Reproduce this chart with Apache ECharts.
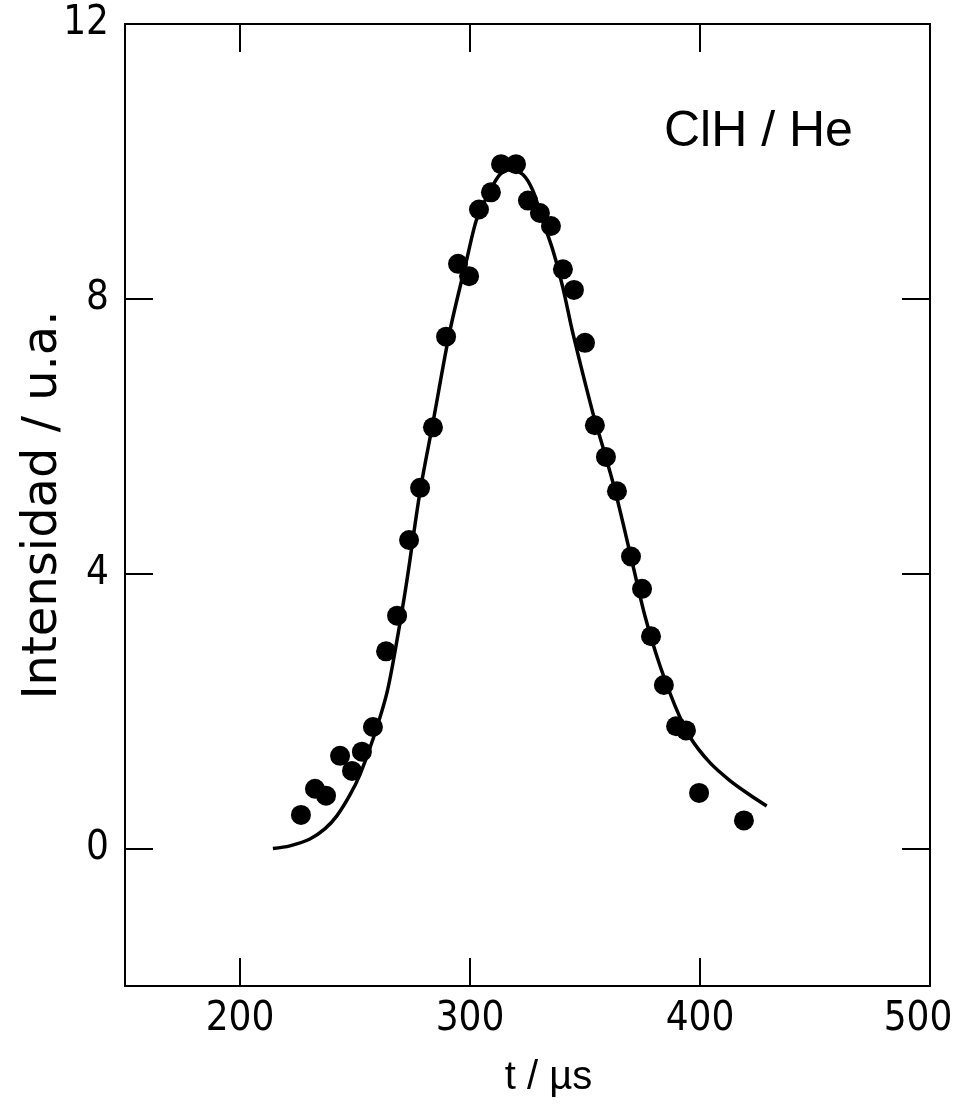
<!DOCTYPE html>
<html>
<head>
<meta charset="utf-8">
<script src="https://cdn.jsdelivr.net/npm/echarts@6/dist/echarts.min.js"></script>
<style>html,body{margin:0;padding:0;background:#fff}#c{width:955px;height:1105px}</style>
</head>
<body>
<div id="c"></div>
<script>
// Measured points
var pointsT = [226.5, 232.6, 237.4, 243.5, 248.7, 253, 257.8, 263.5, 268.3, 273.5, 278.3, 283.9, 289.6, 294.8, 299.6, 303.9, 309.1, 313.5, 320, 325.2, 330.4, 335.2, 340.4, 345.2, 350, 354.3, 359.1, 363.9, 370, 374.8, 378.7, 384.3, 389.6, 393.9, 399.6, 419.1];
var pointsI = [0.49, 0.87, 0.77, 1.35, 1.13, 1.41, 1.77, 2.87, 3.39, 4.49, 5.25, 6.13, 7.45, 8.51, 8.33, 9.30, 9.55, 9.96, 9.96, 9.43, 9.25, 9.06, 8.43, 8.13, 7.36, 6.16, 5.70, 5.20, 4.25, 3.78, 3.09, 2.38, 1.78, 1.72, 0.81, 0.41];
// Fitted curve
var fitT = [214.3, 221.7, 230.4, 237, 242.2, 247.8, 252.2, 257.8, 263.9, 268.3, 272.6, 278.3, 283.9, 291.3, 298.7, 303, 308.7, 313, 317.4, 323, 327.4, 331.7, 336.1, 340.4, 344.8, 353.5, 357.8, 363, 369.6, 376.1, 382.6, 389.1, 395.7, 404.3, 413, 421.7, 429];
var fitI = [0, 0.04, 0.14, 0.29, 0.48, 0.78, 1.08, 1.59, 2.27, 3.04, 3.91, 5.2, 6.2, 7.54, 8.59, 9.17, 9.57, 9.81, 9.88, 9.81, 9.57, 9.13, 8.70, 8.16, 7.49, 6.33, 5.84, 5.22, 4.30, 3.38, 2.66, 2.08, 1.62, 1.25, 0.99, 0.78, 0.62];
// Ticks and labels
var xTicks = [200, 300, 400, 500];
var yTicks = [0, 4, 8, 12];
var xTitle = 't / µs';
var yTitle = 'Intensidad / u.a.';
var label = 'ClH / He';

var numFont = "'Liberation Sans Narrow', 'DejaVu Sans Condensed', 'Liberation Sans', sans-serif";
var txtFont = "'Liberation Sans', sans-serif";

function zip(a, b) { return a.map(function (v, i) { return [v, b[i]]; }); }

var axisLine = { show: true, onZero: false, lineStyle: { color: '#000', width: 2 } };
var tick = { show: true, inside: true, length: 28, lineStyle: { color: '#000', width: 2 } };

var chart = echarts.init(document.getElementById('c'), null, { renderer: 'canvas' });
chart.setOption({
  animation: false,
  backgroundColor: '#fff',
  grid: { left: 125, right: 25, top: 24, bottom: 119, containLabel: false, outerBoundsMode: 'none' },
  title: {
    text: label, left: 659, top: 102,
    textStyle: { fontFamily: txtFont, fontSize: 50, fontWeight: 'normal', color: '#000' }
  },
  xAxis: [{
    type: 'value', min: 150, max: 500, position: 'bottom',
    axisLine: axisLine,
    axisTick: Object.assign({ customValues: xTicks }, tick),
    axisLabel: {
      customValues: xTicks, margin: 14, color: '#000', fontFamily: numFont, fontSize: 40,
      formatter: function (v) { return v === 500 ? '{e|500}' : String(v); },
      rich: { e: { fontFamily: numFont, fontSize: 40, color: '#000', padding: [0, 24, 16, 0] } }
    },
    splitLine: { show: false },
    name: xTitle, nameLocation: 'middle', nameGap: 72, nameMoveOverlap: false,
    nameTextStyle: { fontFamily: txtFont, fontSize: 40, color: '#000', padding: [0, 0, 0, 42] }
  }, {
    type: 'value', min: 150, max: 500, position: 'top',
    axisLine: axisLine,
    axisTick: Object.assign({ customValues: [200, 300, 400] }, tick),
    axisLabel: { show: false },
    splitLine: { show: false }
  }],
  yAxis: [{
    type: 'value', min: -2, max: 12, position: 'left',
    axisLine: axisLine,
    axisTick: Object.assign({ customValues: yTicks }, tick),
    axisLabel: { customValues: yTicks, margin: 16, color: '#000', fontFamily: numFont, fontSize: 40 },
    splitLine: { show: false },
    name: yTitle, nameLocation: 'middle', nameGap: 57, nameRotate: 90, nameMoveOverlap: false,
    nameTextStyle: { fontFamily: "'DejaVu Sans', sans-serif", fontSize: 48, color: '#000' }
  }, {
    type: 'value', min: -2, max: 12, position: 'right',
    axisLine: axisLine,
    axisTick: Object.assign({ customValues: [0, 4, 8] }, tick),
    axisLabel: { show: false },
    splitLine: { show: false }
  }],
  series: [{
    type: 'line', data: zip(fitT, fitI), smooth: 0.3, showSymbol: false, symbol: 'none',
    lineStyle: { color: '#000', width: 3.5 }, z: 2
  }, {
    type: 'scatter', data: zip(pointsT, pointsI), symbol: 'circle', symbolSize: 20,
    itemStyle: { color: '#000', opacity: 1 }, z: 3
  }]
});
</script>
</body>
</html>
